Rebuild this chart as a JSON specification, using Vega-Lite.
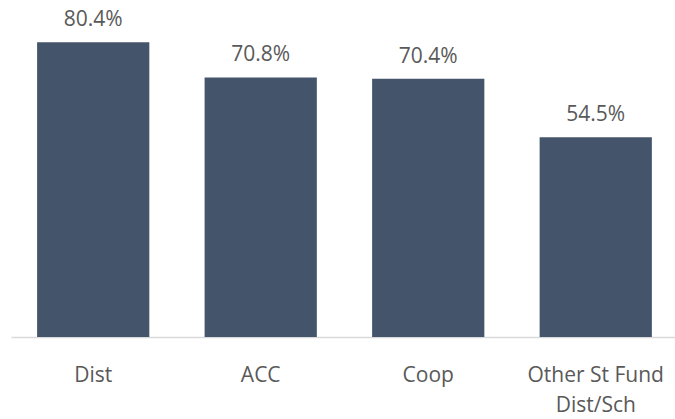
{
  "$schema": "https://vega.github.io/schema/vega-lite/v6.json",
  "width": 664,
  "height": 330,
  "autosize": {"type": "none"},
  "padding": {"left": 11, "top": 7, "right": 0, "bottom": 82},
  "background": "white",
  "config": {"view": {"stroke": null}, "font": "Open Sans"},
  "data": {
    "values": [
      {"category": "Dist", "value": 0.804},
      {"category": "ACC", "value": 0.708},
      {"category": "Coop", "value": 0.704},
      {"category": "Other St Fund Dist/Sch", "value": 0.545}
    ]
  },
  "encoding": {
    "x": {
      "field": "category",
      "type": "nominal",
      "sort": null,
      "scale": {"paddingInner": 0.33, "paddingOuter": 0.147, "align": 0.53},
      "axis": {
        "title": null,
        "ticks": false,
        "labelAngle": 0,
        "labelPadding": 27,
        "labelFont": "Open Sans",
        "labelFontSize": 21,
        "labelColor": "#595959",
        "labelLineHeight": 30,
        "domainColor": "#D9D9D9",
        "domainWidth": 1.3,
        "labelExpr": "datum.label == 'Other St Fund Dist/Sch' ? ['Other St Fund', 'Dist/Sch'] : datum.label"
      }
    },
    "y": {
      "field": "value",
      "type": "quantitative",
      "scale": {"domain": [0, 0.9], "nice": false, "zero": true},
      "axis": null
    }
  },
  "layer": [
    {"mark": {"type": "bar", "color": "#44546A"}},
    {
      "mark": {
        "type": "text",
        "baseline": "alphabetic",
        "dy": -16,
        "fontSize": 21,
        "font": "Open Sans",
        "color": "#595959"
      },
      "encoding": {"text": {"field": "value", "type": "quantitative", "format": ".1%"}}
    }
  ]
}
